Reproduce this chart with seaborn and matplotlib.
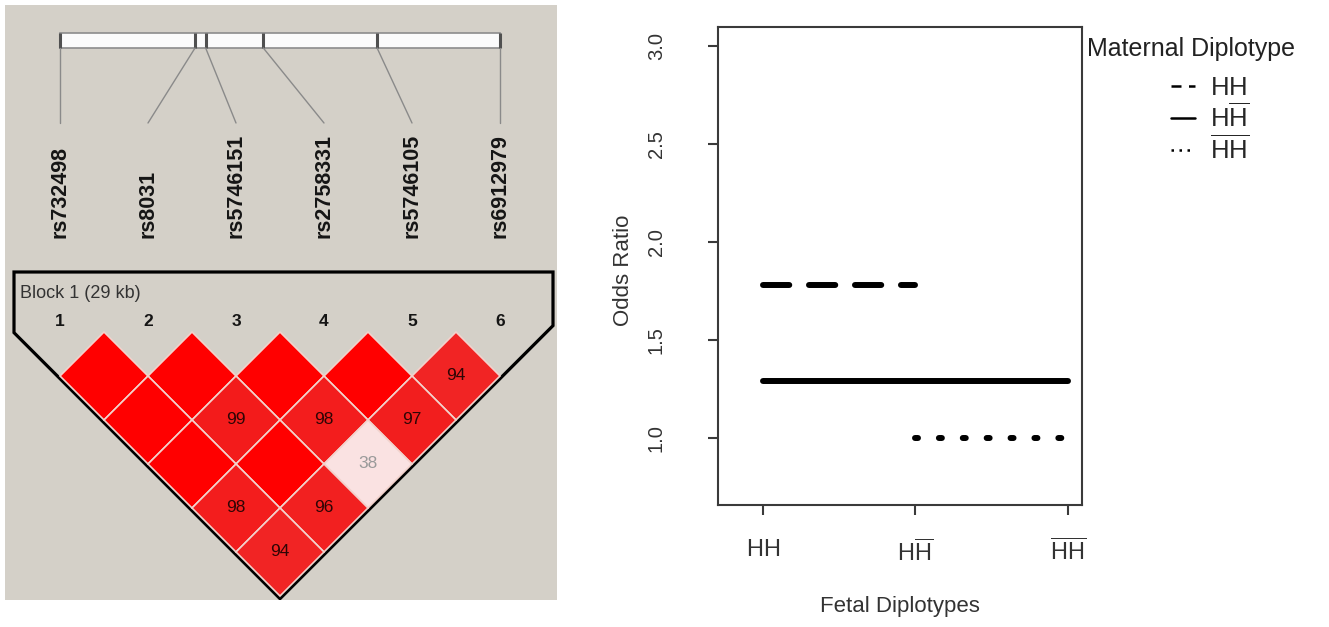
import matplotlib
matplotlib.use("Agg")

import matplotlib.pyplot as plt
import numpy as np
import pandas as pd
import seaborn as sns
from matplotlib.colors import LinearSegmentedColormap
from matplotlib.lines import Line2D
from matplotlib.patches import Polygon, Rectangle

# ── Data ──────────────────────────────────────────────────────────────────────

snp_ids = ["rs732498", "rs8031", "rs5746151", "rs2758331", "rs5746105", "rs6912979"]
snp_pos_kb = [0.0, 8.9, 9.6, 13.4, 20.9, 29.0]
block_label = "Block 1 (29 kb)"

# pairwise D' (x100) between SNP i and SNP j; 100 is drawn as a blank red cell
ld_snp_a = [1, 2, 3, 4, 5, 1, 2, 3, 4, 1, 2, 3, 1, 2, 1]
ld_snp_b = [2, 3, 4, 5, 6, 3, 4, 5, 6, 4, 5, 6, 5, 6, 6]
ld_dprime = [100, 100, 100, 100, 94, 100, 99, 98, 97, 100, 100, 38, 98, 96, 94]

fetal_diplotypes = ["HH", "HHbar", "HbarHbar"]
diplotype_labels = [r"$\mathrm{HH}$", r"$\mathrm{H\overline{H}}$", r"$\overline{\mathrm{HH}}$"]
or_maternal_hh = [1.78, 1.78, np.nan]
or_maternal_hhbar = [1.29, 1.29, 1.29]
or_maternal_hbarhbar = [np.nan, 1.00, 1.00]
or_ticks = [1.0, 1.5, 2.0, 2.5, 3.0]

# ── Style ─────────────────────────────────────────────────────────────────────

sns.set_style("ticks")
plt.rcParams["font.family"] = ["Liberation Sans", "DejaVu Sans"]
plt.rcParams["mathtext.fontset"] = "custom"
plt.rcParams["mathtext.rm"] = "Liberation Sans"
plt.rcParams["mathtext.it"] = "Liberation Sans:italic"
plt.rcParams["mathtext.bf"] = "Liberation Sans:bold"

W, H = 1329, 627
PANEL_GREY = "#d4d0c8"
INK = "#3a3a3a"

fig = plt.figure(figsize=(W / 100, H / 100), dpi=100)

# ── Left: Haploview-style LD block ───────────────────────────────────────────

axL = fig.add_axes([5 / W, (H - 600) / H, 552 / W, 595 / H])
axL.set_facecolor(PANEL_GREY)
# one unit = spacing between SNP columns (88 px); y grows downward
axL.set_xlim(1 - 55 / 88, 1 + 497 / 88)
axL.set_ylim(595 / 88, 0)
axL.set_xticks([])
axL.set_yticks([])
for s in axL.spines.values():
    s.set_visible(False)

n_snp = len(snp_ids)
snp_x = np.arange(1, n_snp + 1)
phys_x = 1 + np.array(snp_pos_kb) / snp_pos_kb[-1] * (n_snp - 1)

bar_top, bar_bot = 28 / 88, 43 / 88
axL.add_patch(Rectangle((1, bar_top), n_snp - 1, bar_bot - bar_top,
                        facecolor="#fbfbfb", edgecolor="#8c8c8c", lw=1.2))
axL.vlines(phys_x, bar_top, bar_bot, color="#505050", lw=2.2)
for px, sx in zip(phys_x, snp_x):
    axL.plot([px, sx], [bar_bot, 118 / 88], color="#8a8a8a", lw=1)
for sx, name in zip(snp_x, snp_ids):
    axL.text(sx, 233 / 88, name, rotation=90, ha="center", va="bottom",
             fontsize=15.5, fontweight="bold", color="#151515")

# block outline
row1_y = 327 / 88 + 0.5
tip_y = row1_y + 0.5 * (n_snp - 1) + 0.03
left_x, right_x, top_y = 1 - 46 / 88, 1 + 493 / 88, 267 / 88
axL.add_patch(Polygon([(left_x, top_y), (right_x, top_y),
                       (right_x, tip_y - (right_x - 3.5)), (3.5, tip_y),
                       (left_x, tip_y - (3.5 - left_x))],
                      closed=True, fill=False, edgecolor="black", lw=2.3,
                      joinstyle="miter"))
axL.text(left_x + 0.07, 288 / 88, block_label, ha="left", va="center",
         fontsize=13, color="#333333")
for sx in snp_x:
    axL.text(sx, 317 / 88, str(sx), ha="center", va="center",
             fontsize=12.5, fontweight="bold", color="#151515")

ld_cmap = LinearSegmentedColormap.from_list(
    "ld", [(0.0, "#ffffff"), (0.38, "#fae2e2"), (0.9, "#f02c2c"),
           (0.995, "#f31a1a"), (1.0, "#ff0000")])
for a, b, d in zip(ld_snp_a, ld_snp_b, ld_dprime):
    cx = (a + b) / 2
    cy = row1_y + 0.5 * (b - a - 1)
    axL.add_patch(Polygon([(cx, cy - 0.5), (cx + 0.5, cy), (cx, cy + 0.5), (cx - 0.5, cy)],
                          closed=True, facecolor=ld_cmap(d / 100),
                          edgecolor="#f2d2cc", lw=1.2))
    if d < 100:
        axL.text(cx, cy, str(d), ha="center", va="center", fontsize=12.5,
                 color="#2e0505" if d >= 50 else "#9a9a9a")

# ── Right: odds ratios by fetal / maternal diplotype ─────────────────────────

series = {
    "HH": or_maternal_hh,
    "HHbar": or_maternal_hhbar,
    "HbarHbar": or_maternal_hbarhbar,
}
df = pd.DataFrame([
    {"maternal": m, "fetal_pos": k, "odds_ratio": v}
    for m, vals in series.items()
    for k, v in enumerate(vals)
]).dropna()

axR = fig.add_axes([718 / W, (H - 505) / H, 364 / W, 478 / H])
sns.lineplot(
    data=df, x="fetal_pos", y="odds_ratio",
    style="maternal", style_order=fetal_diplotypes,
    dashes={"HH": (4.4, 3.3), "HHbar": "", "HbarHbar": (0.5, 3.5)},
    color="black", linewidth=4.3, legend=False, ax=axR,
    dash_capstyle="round", solid_capstyle="round",
)
axR.set_xlim(-0.295, 2.092)
axR.set_ylim(0.658, 3.097)
axR.set_xticks(range(len(fetal_diplotypes)), labels=diplotype_labels)
axR.set_yticks(or_ticks, labels=[f"{t:.1f}" for t in or_ticks])
for s in axR.spines.values():
    s.set_visible(True)
    s.set_color(INK)
    s.set_linewidth(1.5)
axR.tick_params(axis="both", direction="out", length=7.5, width=1.5, color=INK)
axR.tick_params(axis="x", labelsize=17, pad=17, labelcolor="#333333")
axR.tick_params(axis="y", labelsize=14.5, pad=30, labelcolor="#333333", labelrotation=90)
for lab in axR.get_yticklabels():
    lab.set_va("center")

axR.set_xlabel("Fetal Diplotypes", fontsize=16, color="#333333")
axR.set_ylabel("Odds Ratio", fontsize=16, color="#333333")
axR.xaxis.set_label_coords(0.5, -0.19)
axR.yaxis.set_label_coords(-0.23, 0.49)

fig.text(1087 / W, 1 - 49 / H, "Maternal Diplotype", ha="left", va="center",
         fontsize=18, color="#222222")
handles = [
    Line2D([], [], color="black", lw=1.8, dashes=(4, 3)),
    Line2D([], [], color="black", lw=1.8),
    Line2D([], [], color="black", lw=1.8, dashes=(1, 2.2)),
]
fig.legend(handles, diplotype_labels, loc="upper left",
           bbox_to_anchor=(1171 / W, 1 - 76 / H), frameon=False,
           fontsize=18.5, handlelength=0.95, handletextpad=0.55,
           labelspacing=0.12, borderpad=0, borderaxespad=0)

fig.savefig("out.png", dpi=100)
